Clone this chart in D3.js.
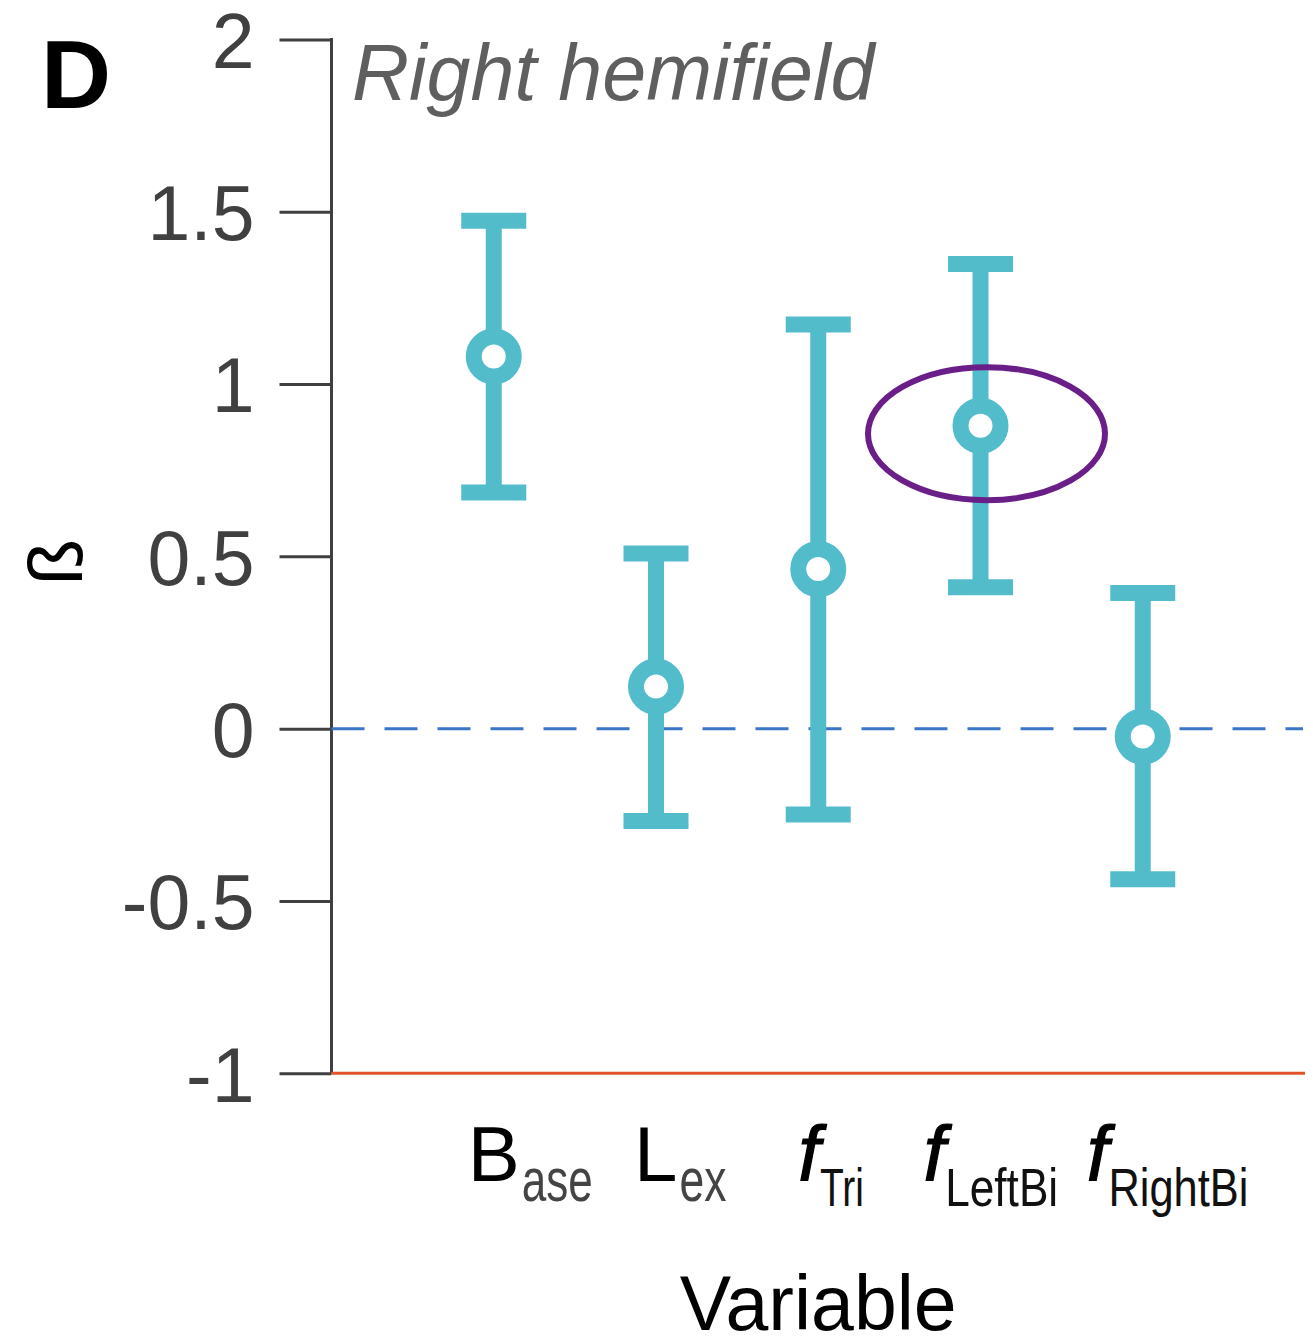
<!DOCTYPE html>
<html>
<head>
<meta charset="utf-8">
<script src="https://cdn.jsdelivr.net/npm/d3@7"></script>
<style>
  html, body { margin: 0; padding: 0; background: #ffffff; }
  svg { display: block; }
</style>
</head>
<body>
<svg id="chart" width="1313" height="1342"></svg>
<script>
// Regression coefficients (beta) with confidence intervals, right hemifield
const categories = ["Base", "Lex", "fTri", "fLeftBi", "fRightBi"];
const labelMain  = ["B", "L", "f", "f", "f"];
const labelSub   = ["ase", "ex", "Tri", "LeftBi", "RightBi"];
const betaMean   = [1.080, 0.122, 0.463, 0.879, -0.023];
const betaLower  = [0.685, -0.268, -0.249, 0.410, -0.437];
const betaUpper  = [1.474, 0.508, 1.173, 1.348, 0.394];
const yTicks     = [-1, -0.5, 0, 0.5, 1, 1.5, 2];
const yTickText  = ["-1", "-0.5", "0", "0.5", "1", "1.5", "2"];
const yDomain    = [-1, 2];
const highlightCategory = "fLeftBi";
const highlightCenter   = 0.856;

const FONT = "'Liberation Sans', Arial, Helvetica, sans-serif";
const CYAN = "#53bccb";
const AXIS = "#404040";

const svg = d3.select("#chart");

const plot = { left: 331.5, right: 1305, top: 39.4, bottom: 1073.3 };

const x = d3.scalePoint()
  .domain(categories)
  .range([plot.left, plot.right])
  .padding(1);

const y = d3.scaleLinear()
  .domain(yDomain)
  .range([plot.bottom, plot.top]);

// y axis
const yAxis = d3.axisLeft(y)
  .tickValues(yTicks)
  .tickFormat((d, i) => yTickText[i])
  .tickSize(52)
  .tickPadding(25);

const gy = svg.append("g")
  .attr("transform", `translate(${plot.left},0)`)
  .call(yAxis);
gy.select(".domain")
  .attr("d", `M0,${plot.top - 1.5}V${plot.bottom}`)
  .attr("stroke", AXIS)
  .attr("stroke-width", 3);
gy.selectAll(".tick line").attr("stroke", AXIS).attr("stroke-width", 3);
gy.selectAll(".tick text")
  .attr("fill", AXIS)
  .attr("font-family", FONT)
  .attr("font-size", 77)
  .attr("dy", "0.36em");

// bottom boundary at y = -1
svg.append("line")
  .attr("x1", plot.left).attr("x2", plot.right)
  .attr("y1", y(-1)).attr("y2", y(-1))
  .attr("stroke", "#e1522a")
  .attr("stroke-width", 3);

// zero reference line
svg.append("line")
  .attr("x1", plot.left).attr("x2", plot.right - 2)
  .attr("y1", y(0)).attr("y2", y(0))
  .attr("stroke", "#3a76c6")
  .attr("stroke-width", 3)
  .attr("stroke-dasharray", "33 20");

// error bars
const data = categories.map((c, i) => ({
  c, mean: betaMean[i], lo: betaLower[i], hi: betaUpper[i]
}));

const bars = svg.append("g").selectAll("g")
  .data(data)
  .join("g");

bars.append("line")
  .attr("x1", d => x(d.c)).attr("x2", d => x(d.c))
  .attr("y1", d => y(d.lo)).attr("y2", d => y(d.hi))
  .attr("stroke", CYAN)
  .attr("stroke-width", 16);

const capW = 65;
["lo", "hi"].forEach(k => {
  bars.append("line")
    .attr("x1", d => x(d.c) - capW / 2).attr("x2", d => x(d.c) + capW / 2)
    .attr("y1", d => y(d[k])).attr("y2", d => y(d[k]))
    .attr("stroke", CYAN)
    .attr("stroke-width", 16);
});

bars.append("circle")
  .attr("cx", d => x(d.c))
  .attr("cy", d => y(d.mean))
  .attr("r", 20)
  .attr("fill", "#ffffff")
  .attr("stroke", CYAN)
  .attr("stroke-width", 16);

// highlight ring
svg.append("ellipse")
  .attr("cx", x(highlightCategory) + 6)
  .attr("cy", y(highlightCenter))
  .attr("rx", 118.5)
  .attr("ry", 66.5)
  .attr("fill", "none")
  .attr("stroke", "#6a1e87")
  .attr("stroke-width", 6);

// x tick labels: main letter plus subscript
const labelOffset = [-26, -22, -20, -57, -56];
const subWidth    = [71, 47, 44, 113, 140];
const labels = svg.append("g");
categories.forEach((c, i) => {
  const x0 = x(c) + labelOffset[i];
  const italic = labelMain[i] === "f";
  const main = labels.append("text")
    .attr("x", x0)
    .attr("y", 1181)
    .attr("font-family", FONT)
    .attr("font-size", 78)
    .attr("font-style", italic ? "italic" : "normal")
    .attr("fill", "#000")
    .attr("stroke", italic ? "#000" : "none")
    .attr("stroke-width", italic ? 1.2 : 0)
    .text(labelMain[i]);
  const adv = main.node().getComputedTextLength();
  const lower = i < 2;
  labels.append("text")
    .attr("x", x0 + adv + (italic ? 0 : 2))
    .attr("y", lower ? 1201 : 1206)
    .attr("font-family", FONT)
    .attr("font-size", lower ? 62 : 53)
    .attr("fill", lower ? "#444" : "#111")
    .attr("textLength", subWidth[i])
    .attr("lengthAdjust", "spacingAndGlyphs")
    .text(labelSub[i]);
});

// axis titles
svg.append("text")
  .attr("x", x("fTri"))
  .attr("y", 1330)
  .attr("text-anchor", "middle")
  .attr("font-family", FONT)
  .attr("font-size", 77)
  .attr("fill", "#000")
  .text("Variable");

svg.append("text")
  .attr("transform", `translate(82,562) rotate(-90)`)
  .attr("text-anchor", "middle")
  .attr("font-family", FONT)
  .attr("font-size", 76)
  .attr("fill", "#000")
  .text("ß");

// panel letter and title
svg.append("text")
  .attr("x", 41)
  .attr("y", 108)
  .attr("font-family", FONT)
  .attr("font-size", 97)
  .attr("font-weight", "bold")
  .attr("fill", "#000")
  .text("D");

svg.append("text")
  .attr("x", 352)
  .attr("y", 100)
  .attr("font-family", FONT)
  .attr("font-size", 79)
  .attr("font-style", "italic")
  .attr("fill", "#5f5f5f")
  .text("Right hemifield");
</script>
</body>
</html>
